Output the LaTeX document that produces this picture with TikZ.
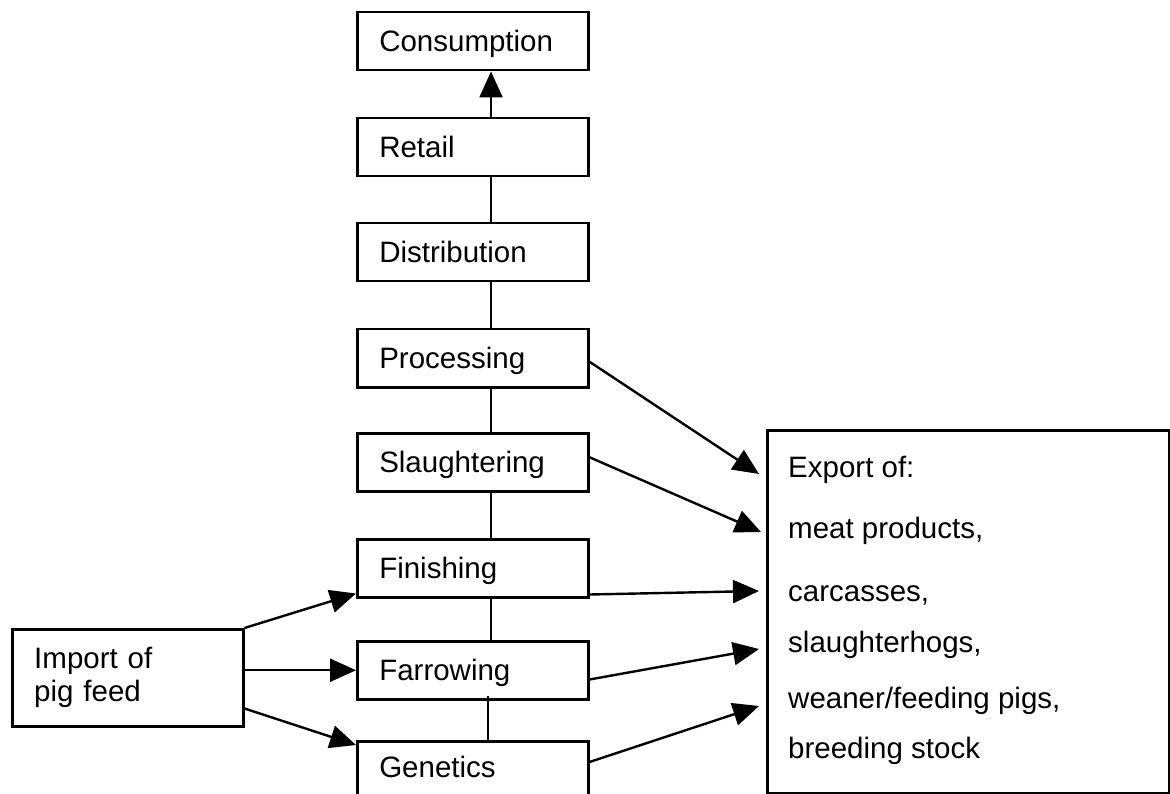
\documentclass[tikz,border=0pt]{standalone}
\usepackage{fontspec}
\setmainfont{Liberation Sans}
\usetikzlibrary{arrows.meta}
\begin{document}
\begin{tikzpicture}[x=1pt,y=-1pt,
  every node/.style={font=\fontsize{29.5}{33}\selectfont},
  stage/.style={draw, line width=2.5pt, anchor=north west, minimum height=58pt,
    text width=187pt, inner xsep=22pt, inner ysep=0pt, align=left,
    text height=21pt, text depth=1pt},
  feedbox/.style={draw, line width=2.5pt, anchor=north west, minimum height=97pt,
    text width=187pt, inner xsep=22pt, align=left},
  exportbox/.style={draw, line width=2.5pt, anchor=north west, inner sep=0pt},
  conn/.style={line width=2.4pt},
  arr/.style={line width=2.4pt, -{Triangle[length=26pt 0 0, width=23pt 0 0]}},
  lbl/.style={anchor=base west, inner sep=0pt}]
\useasboundingbox (0,0) rectangle (1170,794);
\fill[white] (0,0) rectangle (1170,794);
\clip (0,0) rectangle (1170,794);

\coordinate (spine) at (491,0);
\coordinate (spineb) at (488,0);

\node[stage] (consumption) at (356,11) {Consumption};
\node[stage] (retail) at (356,117) {Retail};
\node[stage] (distribution) at (356,222) {Distribution};
\node[stage] (processing) at (356,328) {Processing};
\node[stage] (slaughtering) at (356,432) {Slaughtering};
\node[stage] (finishing) at (356,538) {Finishing};
\node[stage] (farrowing) at (356,640) {Farrowing};
\node[stage, text depth=7pt] (genetics) at (356,740) {Genetics};

\node[feedbox] (import) at (11,628) {Import of\\pig feed};

\node[exportbox, minimum width=402pt, minimum height=363pt] (export) at (766,429) {};
\node[lbl] (e1) at (788,477) {Export of:};
\node[lbl] (e2) at (788,538) {meat products,};
\node[lbl] (e3) at (788,601) {carcasses,};
\node[lbl] (e4) at (788,652) {slaughterhogs,};
\node[lbl] (e5) at (788,708) {weaner/feeding pigs,};
\node[lbl] (e6) at (788,758) {breeding stock};

% vertical chain
\draw[arr] (retail.north -| spine) -- (consumption.south -| spine);
\draw[conn] (retail.south -| spine) -- (distribution.north -| spine);
\draw[conn] (distribution.south -| spine) -- (processing.north -| spine);
\draw[conn] (processing.south -| spine) -- (slaughtering.north -| spine);
\draw[conn] (slaughtering.south -| spine) -- (finishing.north -| spine);
\draw[conn] (finishing.south -| spine) -- (farrowing.north -| spine);
\draw[conn] ([yshift=5pt]farrowing.south -| spineb) -- (genetics.north -| spineb);

% import arrows
\draw[arr] (import.north east) -- ([yshift=5pt]finishing.south west);
\draw[arr] (import.east |- farrowing.west) -- (farrowing.west);
\draw[arr] ([yshift=19pt]import.south east) -- ([yshift=-5pt]genetics.north west);

% export arrows
\draw[arr] ([yshift=-3.5pt]processing.east) -- ([shift={(-7,45)}]export.north west);
\draw[arr] ([yshift=5pt]slaughtering.east) -- ([shift={(-5,103)}]export.north west);
\draw[arr] ([yshift=4pt]finishing.south east) -- ([shift={(-7,162)}]export.north west);
\draw[arr] ([yshift=21pt]farrowing.south east) -- ([shift={(-7,220)}]export.north west);
\draw[arr] ([yshift=-22pt]genetics.north east) -- ([shift={(-7,277)}]export.north west);
\end{tikzpicture}
\end{document}
